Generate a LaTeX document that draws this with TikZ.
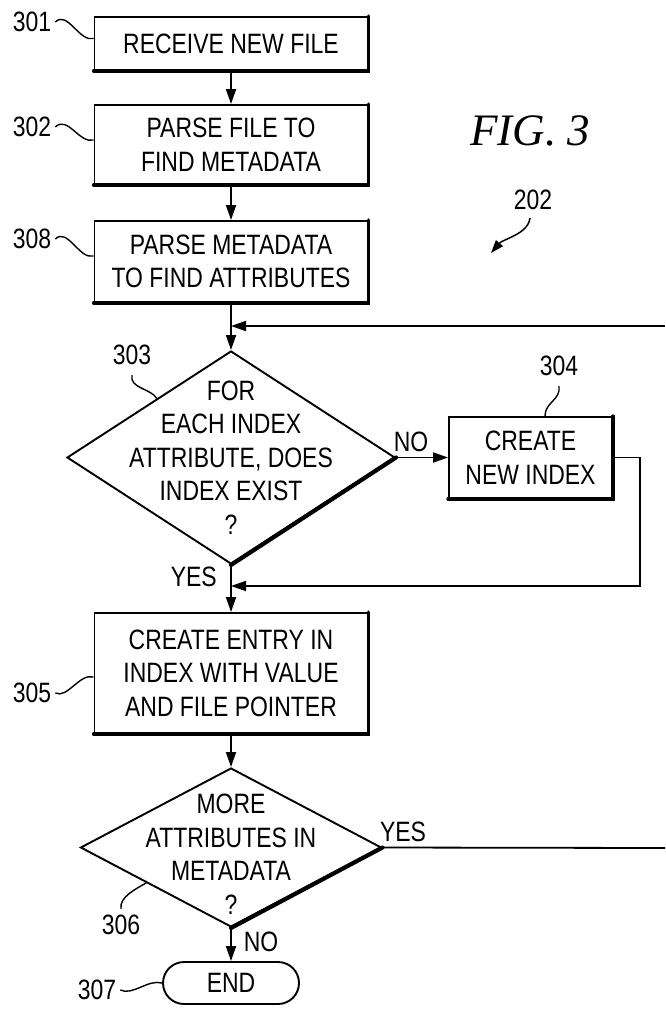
\documentclass[tikz,border=0pt]{standalone}
\usepackage{fontspec}
\setmainfont{Liberation Sans}[FakeStretch=0.82]
\newfontfamily\figfont{Liberation Serif}
\usetikzlibrary{arrows.meta,shapes.geometric,calc}
\begin{document}
\begin{tikzpicture}[x=1pt,y=-1pt,
  every node/.style={font=\fontsize{28}{33.5}\selectfont, align=center, inner sep=0pt},
  stepbox/.style={draw, line width=1.9pt, minimum width=273pt},
  smallbox/.style={draw, line width=1.9pt, minimum width=163pt, minimum height=81pt},
  decision/.style={diamond, draw, line width=1.9pt},
  endbox/.style={draw, line width=1.9pt, rounded corners=21pt, minimum width=136pt, minimum height=42pt},
  shadeedge/.style={line width=3.4pt, line cap=round},
  diagedge/.style={line width=4.2pt, line cap=round},
  wire/.style={line width=1.8pt},
  arr/.style={line width=1.8pt, -{Triangle[length=15pt,width=10pt]}},
  lead/.style={line width=1.4pt},
  tag/.style={font=\fontsize{28}{28}\selectfont},
  figlabel/.style={font=\figfont\itshape\fontsize{45}{45}\selectfont}]

\useasboundingbox (0,0) rectangle (665,1009);

% process steps
\node[stepbox, minimum height=53pt] (b301) at (231,43.5) {RECEIVE NEW FILE};
\node[stepbox, minimum height=79pt] (b302) at (231,144.5) {PARSE FILE TO\\FIND METADATA};
\node[stepbox, minimum height=81pt] (b308) at (231,261.5) {PARSE METADATA\\TO FIND ATTRIBUTES};
\node[decision, minimum width=328pt, minimum height=213pt] (d303) at (231,457.5) {};
\node (d303text) at (231,457.5) {FOR\\EACH INDEX\\ATTRIBUTE, DOES\\INDEX EXIST\\?};
\node[smallbox] (b304) at (530.5,457.5) {CREATE\\NEW INDEX};
\node[stepbox, minimum height=120pt] (b305) at (231,673) {CREATE ENTRY IN\\INDEX WITH VALUE\\AND FILE POINTER};
\node[decision, minimum width=301pt, minimum height=159pt] (d306) at (231,847.5) {};
\node (d306text) at (231,854) {MORE\\ATTRIBUTES IN\\METADATA\\?};
\node[endbox] (end) at (231,983) {END};

% heavy lower-right edges
\foreach \b in {b301,b302,b308,b304,b305}
  \draw[shadeedge] (\b.north east) -- (\b.south east) -- (\b.south west);
\draw[diagedge] (d303.east) -- (d303.south);
\draw[diagedge] (d306.east) -- (d306.south);

% junction points and open ends of the return loop
\coordinate (joinLoop) at (231,326);
\coordinate (joinYes) at (231,586);
\coordinate (edgeHigh) at (665,326);
\coordinate (edgeLow) at (665,848);

% connectors
\draw[arr] (b301) -- (b302);
\draw[arr] (b302) -- (b308);
\draw[arr] (b308) -- (d303);
\draw[arr] (edgeHigh) -- (joinLoop);
\draw[arr] (d303) -- (b304);
\draw[arr] (b304.east) -- ++(27,0) |- (joinYes);
\draw[arr] (d303) -- (b305);
\draw[arr] (b305) -- (d306);
\draw[arr] (d306) -- (end);
\draw[wire] (d306.east) -- (edgeLow);

% branch labels
\node (no303) at (411,442) {NO};
\node[anchor=east] (yes303) at (217,577) {YES};
\node (yes306) at (403,832) {YES};
\node (no306) at (261,942) {NO};

% reference numerals
\node[tag] (t301) at (32,22) {301};
\node[tag] (t302) at (32,127) {302};
\node[tag] (t308) at (32,239) {308};
\node[tag] (t303) at (132,355) {303};
\node[tag] (t304) at (559,366) {304};
\node[tag] (t305) at (32,693) {305};
\node[tag] (t306) at (121,925) {306};
\node[tag] (t307) at (97,990) {307};
\node[tag] (t202) at (533,200) {202};

\draw[lead] ([xshift=4pt]t301.east) .. controls +(12,-12) and +(-14,4) .. ([yshift=5pt]b301.west);
\draw[lead] ([xshift=4pt]t302.east) .. controls +(12,-12) and +(-14,4) .. ([yshift=4.5pt]b302.west);
\draw[lead] ([xshift=4pt]t308.east) .. controls +(12,-12) and +(-14,4) .. ([yshift=5.5pt]b308.west);
\draw[lead] ([xshift=4pt]t305.east) .. controls +(12,6) and +(-14,-4) .. ([yshift=-4pt]b305.west);
\draw[lead] ([xshift=4pt]t307.east) .. controls +(12,6) and +(-14,-4) .. (end.west);
\draw[lead] ([yshift=-10pt]t303.south) .. controls +(-3,13) and +(-6,-10) .. ($(d303.north)!0.45!(d303.west)$);
\draw[lead] ([yshift=-10pt]t304.south) .. controls +(2,14) and +(0,-14) .. ([xshift=14.5pt]b304.north);
\draw[lead] ([yshift=6pt]t306.north) .. controls +(-2,-12) and +(-10,6) .. ($(d306.west)!0.44!(d306.south)$);
\draw[line width=1.5pt, -{Triangle[length=13pt,width=9pt]}]
  ([xshift=-3pt,yshift=-8pt]t202.south) .. controls +(-2,16) and +(12,-14) .. (491,253);

% figure title
\node[figlabel] (fig) at (530,131) {FIG.\hspace{11pt}3};
\end{tikzpicture}
\end{document}
